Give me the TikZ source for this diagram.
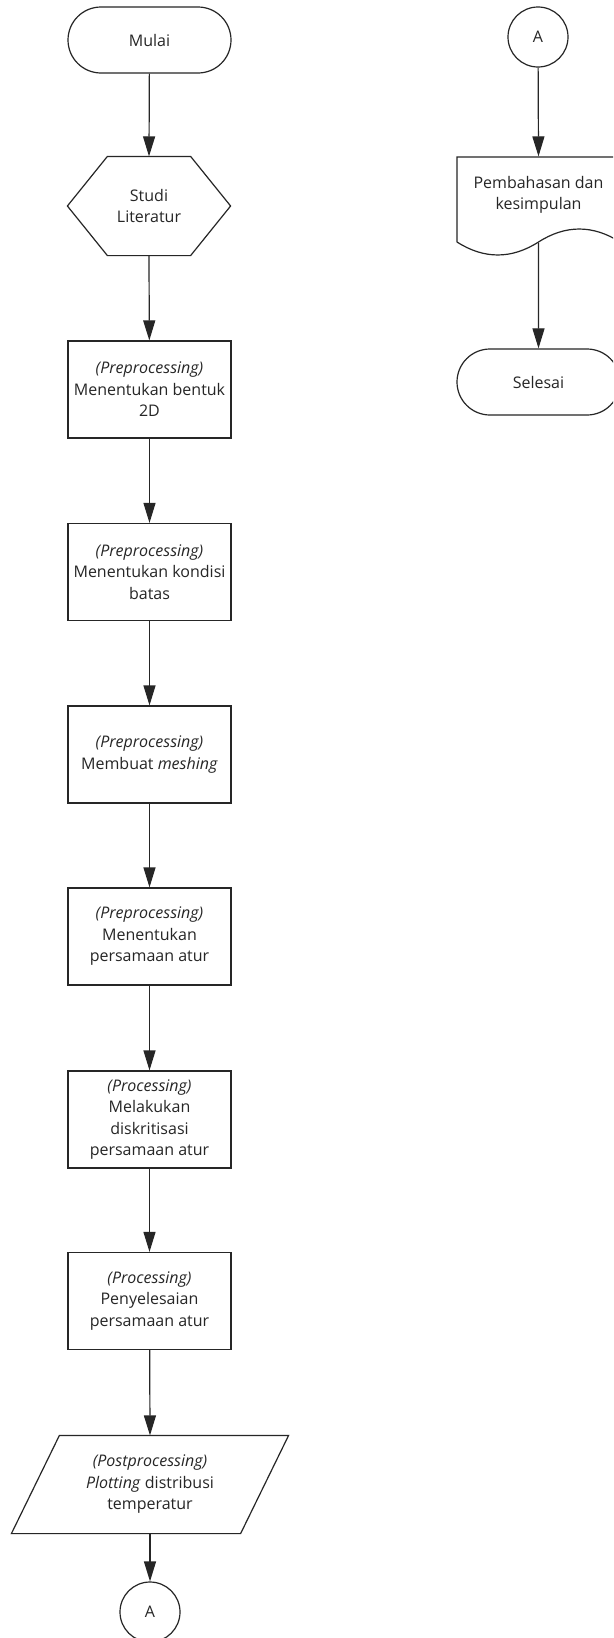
\documentclass[tikz,border=0pt]{standalone}
\usepackage{fontspec}
\setmainfont{Open Sans}
\usetikzlibrary{arrows.meta,shapes.misc}
\begin{document}
\begin{tikzpicture}[x=1pt,y=-1pt,
  color=black!85,
  line width=1.2pt,
  every node/.style={font=\fontsize{16}{21.5}\selectfont, align=center, inner sep=0pt},
  term/.style={rounded rectangle, draw, minimum width=163pt, minimum height=66pt},
  proc/.style={rectangle, draw, minimum width=163pt, minimum height=97pt},
  conn/.style={circle, draw, minimum size=60pt},
  ghost/.style={draw=none},
  arr/.style={-{Triangle[length=20pt,width=12pt]}}]
\clip (0,0) rectangle (613,1638);
\fill[white] (0,0) rectangle (613,1638);

% left column
\node[term] (mulai) at (149.5,40) {Mulai};
\node[ghost, minimum width=162pt, minimum height=98pt] (studi) at (149,206) {Studi\\Literatur};
\draw (studi.west) -- ([xshift=40pt]studi.north west) -- ([xshift=-40pt]studi.north east)
  -- (studi.east) -- ([xshift=-40pt]studi.south east) -- ([xshift=40pt]studi.south west) -- cycle;
\node[proc] (b1) at (149.5,389.5) {\textit{(Preprocessing)}\\Menentukan bentuk\\2D};
\node[proc] (b2) at (149.5,572) {\textit{(Preprocessing)}\\Menentukan kondisi\\batas};
\node[proc] (b3) at (149.5,754.5) {\textit{(Preprocessing)}\\Membuat \textit{meshing}};
\node[proc] (b4) at (149.5,936.5) {\textit{(Preprocessing)}\\Menentukan\\persamaan atur};
\node[proc] (b5) at (149.5,1119.5) {\textit{(Processing)}\\Melakukan\\diskritisasi\\persamaan atur};
\node[proc] (b6) at (149.5,1301) {\textit{(Processing)}\\Penyelesaian\\persamaan atur};
\node[ghost, minimum width=276pt, minimum height=97pt] (plot) at (150,1484.5)
  {\textit{(Postprocessing)}\\\textit{Plotting} distribusi\\temperatur};
\draw (plot.south west) -- ([xshift=-48pt]plot.south east) -- (plot.north east)
  -- ([xshift=48pt]plot.north west) -- cycle;
\node[conn] (ca1) at (150,1612) {A};

% right column
\node[conn] (ca2) at (538,37) {A};
\node[ghost, minimum width=163pt, minimum height=76pt] (doc) at (538.5,195) {Pembahasan dan\\kesimpulan};
\draw (457,242) -- (457,157) -- (620,157) -- (620,242)
  .. controls (593,224.7) and (565.5,224.7) .. (538.5,242)
  .. controls (511.5,259.3) and (484,259.3) .. (457,242);
\coordinate (docbot) at ([yshift=-9pt]doc.south);
\node[term] (selesai) at (538.5,382) {Selesai};

% connectors
\draw[arr] (mulai) -- (studi.north);
\draw[arr] (studi.south) -- (b1);
\draw[arr] (b1) -- (b2);
\draw[arr] (b2) -- (b3);
\draw[arr] (b3) -- (b4);
\draw[arr] (b4) -- (b5);
\draw[arr] (b5) -- (b6);
\draw[arr] (b6) -- (plot.north);
\draw[arr] (plot.south) -- (ca1);
\draw[arr] (ca2) -- (doc.north);
\draw[arr] (docbot) -- (selesai);
\end{tikzpicture}
\end{document}
